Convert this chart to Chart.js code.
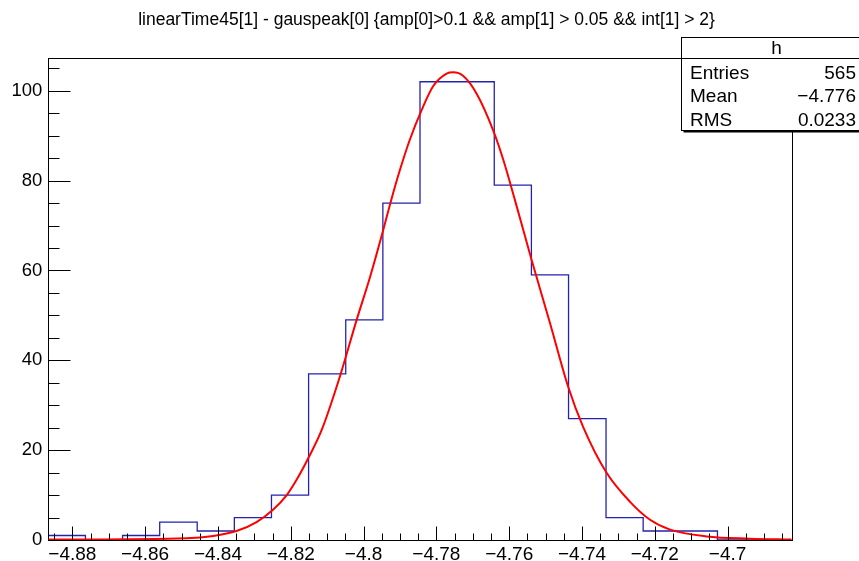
<!DOCTYPE html>
<html>
<head>
<meta charset="utf-8">
<script src="https://cdn.jsdelivr.net/npm/chart.js@4.4.0/dist/chart.umd.min.js"></script>
<style>
  html, body { margin: 0; padding: 0; background: #fff; }
  #wrap { width: 859px; height: 561px; }
</style>
</head>
<body>
<div id="wrap"><canvas id="histChart" width="859" height="561"></canvas></div>
<script>
const titleText = 'linearTime45[1] - gauspeak[0] {amp[0]>0.1 && amp[1] > 0.05 && int[1] > 2}';

// 20 bins, edges
const binEdges = [-4.8866, -4.8764, -4.8662, -4.8560, -4.8457, -4.8355, -4.8253, -4.8151, -4.8049, -4.7947,
                  -4.7845, -4.7743, -4.7641, -4.7539, -4.7437, -4.7334, -4.7232, -4.7130, -4.7028, -4.6926, -4.6824];
const binCounts = [1, 0, 1, 4, 2, 5, 10, 37, 49, 75, 102, 102, 79, 59, 27, 5, 2, 2, 0, 0];

// gaussian fit curve
const fitX = [-4.8866, -4.8486, -4.8413, -4.8349, -4.8294, -4.8248, -4.8211, -4.8184, -4.8152, -4.8115,
              -4.8065, -4.8019, -4.7982, -4.7946, -4.7924, -4.7900, -4.7873, -4.7840, -4.7809, -4.7772,
              -4.7754, -4.7726, -4.7689, -4.7644, -4.7616, -4.7584, -4.7538, -4.7488, -4.7438, -4.7397,
              -4.7332, -4.7268, -4.7213, -4.7158, -4.7058, -4.6939, -4.6824];
const fitY = [0.1, 0.4, 0.9, 2.0, 4.0, 6.8, 10.0, 13.4, 18.2, 24.5,
              36.4, 49.0, 58.6, 69.0, 75.7, 82.4, 89.1, 95.8, 101.0, 103.8,
              104.1, 103.3, 99.3, 91.2, 84.6, 75.6, 62.2, 48.3, 34.1, 25.2,
              14.9, 8.5, 4.5, 2.3, 0.8, 0.3, 0.1];

const xTicks = [-4.88, -4.86, -4.84, -4.82, -4.8, -4.78, -4.76, -4.74, -4.72, -4.7];
const xTickLabels = ['\u22124.88', '\u22124.86', '\u22124.84', '\u22124.82', '\u22124.8',
                     '\u22124.78', '\u22124.76', '\u22124.74', '\u22124.72', '\u22124.7'];
const yTicks = [0, 20, 40, 60, 80, 100];

const statsTitle = 'h';
const statsNames = ['Entries', 'Mean', 'RMS'];
const statsValues = ['565', '\u22124.776', '0.0233'];

const xMin = binEdges[0], xMax = binEdges[binEdges.length - 1];
const yMax = 107.4;
const FONT = 'Liberation Sans, Arial, sans-serif';

const histPoints = binCounts.map((c, i) => ({ x: binEdges[i], y: c }));
histPoints.push({ x: xMax, y: binCounts[binCounts.length - 1] });
const fitPoints = fitX.map((x, i) => ({ x: x, y: fitY[i] }));

// title, frame, inward ticks and stats box like a ROOT canvas
const rootFrame = {
    id: 'rootFrame',
    afterDraw(chart) {
        const { ctx, chartArea: a } = chart;
        const xs = chart.scales.x, ys = chart.scales.y;
        const L = Math.round(a.left) + 0.5, R = Math.round(a.right) + 0.5;
        const T = Math.round(a.top) + 0.5, B = Math.round(a.bottom) + 0.5;
        ctx.save();

        ctx.fillStyle = '#000';
        ctx.font = '17.5px ' + FONT;
        ctx.textAlign = 'center';
        ctx.textBaseline = 'middle';
        ctx.fillText(titleText, 426.5, 20);

        ctx.strokeStyle = '#000';
        ctx.lineWidth = 1;
        ctx.strokeRect(L, T, R - L, B - T);

        ctx.beginPath();
        for (let k = -977; k <= -937; k++) {
            const v = k * 0.005;
            if (v < xMin || v > xMax) continue;
            const px = Math.round(xs.getPixelForValue(v)) + 0.5;
            const len = (k % 4 === 0) ? 14 : 7;
            ctx.moveTo(px, B);
            ctx.lineTo(px, B - len);
        }
        for (let v = 0; v <= yMax; v += 5) {
            const py = Math.round(ys.getPixelForValue(v)) + 0.5;
            const len = (v % 20 === 0) ? 22 : 11;
            ctx.moveTo(L, py);
            ctx.lineTo(L + len, py);
        }
        ctx.stroke();

        // stats box
        const bx = 681.5, by = 37.5, bw = 190, bh = 93;
        ctx.fillStyle = '#000';
        ctx.fillRect(bx + 2, by + 2, bw, bh);
        ctx.fillStyle = '#fff';
        ctx.fillRect(bx, by, bw, bh);
        ctx.strokeRect(bx, by, bw, bh);
        ctx.beginPath();
        ctx.moveTo(bx, 58.5);
        ctx.lineTo(bx + bw, 58.5);
        ctx.stroke();

        ctx.fillStyle = '#000';
        ctx.font = '19px ' + FONT;
        ctx.textBaseline = 'alphabetic';
        ctx.textAlign = 'center';
        ctx.fillText(statsTitle, 776.5, 54);
        const baselines = [78.5, 102, 125.5];
        statsNames.forEach((n, i) => {
            ctx.textAlign = 'left';
            ctx.fillText(n, 690, baselines[i]);
            ctx.textAlign = 'right';
            ctx.fillText(statsValues[i], 856, baselines[i]);
        });
        ctx.restore();
    }
};

const ctx = document.getElementById('histChart').getContext('2d');
new Chart(ctx, {
    type: 'line',
    data: {
        datasets: [
            {
                label: 'fit',
                data: fitPoints,
                borderColor: '#ff0000',
                borderWidth: 2,
                pointRadius: 0,
                fill: false,
                cubicInterpolationMode: 'monotone',
                order: 0
            },
            {
                label: 'h',
                data: histPoints,
                stepped: 'before',
                borderColor: 'rgb(35,35,175)',
                borderWidth: 1.3,
                pointRadius: 0,
                fill: false,
                order: 1
            }
        ]
    },
    options: {
        responsive: false,
        animation: false,
        layout: { padding: { left: 0, right: 67.3, top: 57.5, bottom: 0 } },
        plugins: {
            legend: { display: false },
            tooltip: { enabled: false },
            title: { display: false }
        },
        scales: {
            x: {
                type: 'linear',
                min: xMin,
                max: xMax,
                grid: { display: false, drawTicks: false },
                border: { display: false },
                afterBuildTicks: s => { s.ticks = xTicks.map(v => ({ value: v })); },
                afterFit: s => { s.height = 21; },
                ticks: {
                    autoSkip: false,
                    maxRotation: 0,
                    padding: 3,
                    color: '#000',
                    font: { family: FONT, size: 19 },
                    callback: (v, i) => xTickLabels[i]
                }
            },
            y: {
                type: 'linear',
                min: 0,
                max: yMax,
                grid: { display: false, drawTicks: false },
                border: { display: false },
                afterBuildTicks: s => { s.ticks = yTicks.map(v => ({ value: v })); },
                afterFit: s => { s.width = 48.3; },
                ticks: {
                    padding: 6,
                    color: '#000',
                    font: { family: FONT, size: 18.5 },
                    callback: v => String(v)
                }
            }
        }
    },
    plugins: [rootFrame]
});
</script>
</body>
</html>
